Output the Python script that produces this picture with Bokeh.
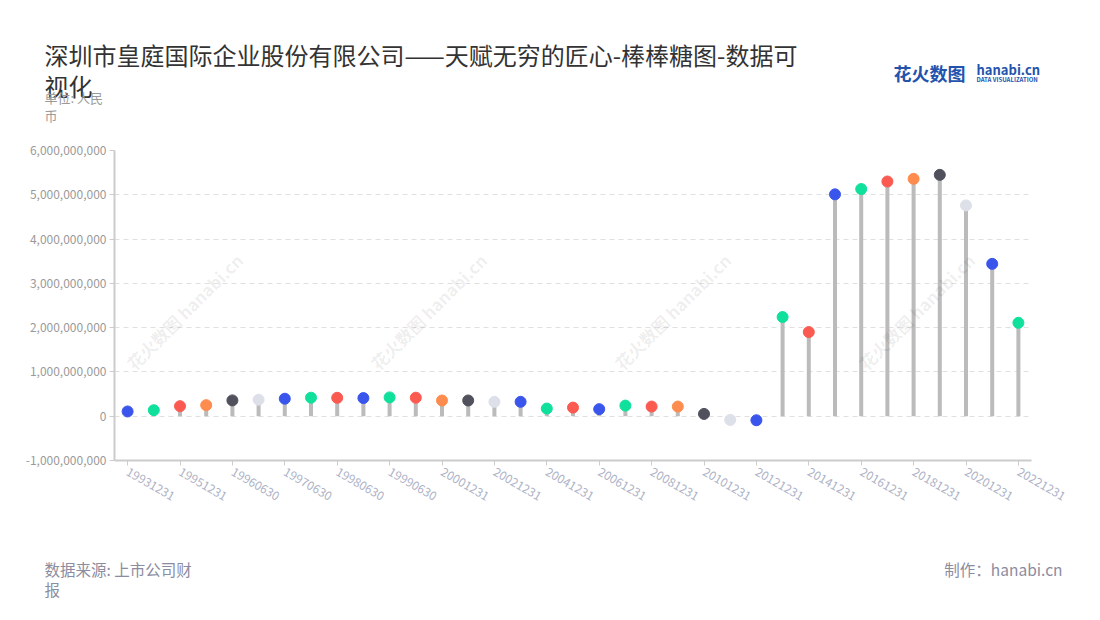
import math
from bokeh.plotting import figure
from bokeh.layouts import column
from bokeh.models import Range1d, FixedTicker, NumeralTickFormatter, Label, ColumnDataSource
from bokeh.embed import file_html
from bokeh.resources import INLINE

# ---- data ----
dates = ["19931231", "19941231", "19951231", "19960331", "19960630", "19961231",
         "19970630", "19971231", "19980630", "19981231", "19990630", "19991231",
         "20001231", "20011231", "20021231", "20031231", "20041231", "20051231",
         "20061231", "20071231", "20081231", "20091231", "20101231", "20111231",
         "20121231", "20131231", "20141231", "20151231", "20161231", "20171231",
         "20181231", "20191231", "20201231", "20211231", "20221231"]
values = [107e6, 136e6, 227e6, 250e6, 357e6, 373e6, 395e6, 418e6,
          416e6, 410e6, 425e6, 418e6, 355e6, 355e6, 325e6, 325e6,
          173e6, 195e6, 160e6, 240e6, 218e6, 218e6, 52e6, -84e6, -91e6,
          2.24e9, 1.90e9, 5.01e9, 5.13e9, 5.30e9, 5.36e9, 5.45e9, 4.76e9, 3.44e9, 2.11e9]
y_ticks = [-1e9, 0, 1e9, 2e9, 3e9, 4e9, 5e9, 6e9]
title_lines = ["深圳市皇庭国际企业股份有限公司——天赋无穷的匠心-棒棒糖图-数据可", "视化"]
unit_lines = ["单位: 人民", "币"]
source_lines = ["数据来源: 上市公司财", "报"]
credit = "制作：hanabi.cn"
watermark = "花火数图 hanabi.cn"

# ---- style ----
palette = ["#3a55ec", "#0fe09c", "#fb5a50", "#fe8c4e", "#51515e", "#dde0e9",
           "#3a55ec", "#0fe09c", "#fb5a50"]
FONT = "Noto Sans CJK SC"
W = 1084
HEAD_H, MAIN_H, FOOT_H = 140, 370, 94      # page bands: 0-140, 140-510, 510-604
FL, FT, FB, FR = 114, 150, 460, 1031       # plot frame in page pixels
WM_X = [184, 428, 672, 916]
WM_Y = [311]


def blank_fig(y0, h):
    f = figure(width=W, height=h, output_backend="svg", toolbar_location=None,
               x_range=Range1d(0, W), y_range=Range1d(y0 + h, y0),
               x_axis_type=None, y_axis_type=None, min_border=0, frame_align=False)
    f.grid.visible = False
    f.outline_line_color = None
    f.background_fill_color = "white"
    f.border_fill_color = "white"
    return f


def lab(f, text, x, y, size, color, align="left", style="normal", angle=0.0, alpha=1.0,
        units="data"):
    f.add_layout(Label(x=x, y=y, x_units=units, y_units=units, text=text,
                       text_font=FONT, text_font_size=size, text_color=color,
                       text_align=align, text_baseline="middle", text_font_style=style,
                       angle=angle, text_alpha=alpha))


# ---- header ----
head = blank_fig(0, HEAD_H)
lab(head, title_lines[0], 44, 54, "24px", "#333333")
lab(head, title_lines[1], 44, 85, "24px", "#333333")
lab(head, unit_lines[0], 44, 97, "13px", "#9a9a9a")
lab(head, unit_lines[1], 44, 115, "13px", "#9a9a9a")
lab(head, "花火数图", 893, 72, "18px", "#2453ad", style="bold")
lab(head, "hanabi.cn", 976, 69, "13px", "#2453ad", style="bold")
lab(head, "DATA VISUALIZATION", 976, 79, "6px", "#2453ad", style="bold")

# ---- main chart ----
idx = list(range(len(values)))
src = ColumnDataSource(dict(
    x=idx, y=values, zero=[0] * len(values),
    color=[palette[i % len(palette)] for i in idx],
))

p = figure(width=W, height=MAIN_H, output_backend="svg", toolbar_location=None,
           x_range=Range1d(-0.5, len(values) - 0.5), y_range=Range1d(y_ticks[0], y_ticks[-1]),
           min_border_left=FL, min_border_right=W - FR,
           min_border_top=FT - HEAD_H, min_border_bottom=HEAD_H + MAIN_H - FB,
           frame_align=False)
p.outline_line_color = None
p.background_fill_color = "white"
p.border_fill_color = "white"

# faint watermarks (frame-relative screen pixels)
for wy in WM_Y:
    for wx in WM_X:
        lab(p, watermark, wx - FL, FB - wy, "17px", "#000000", align="center", style="bold",
            angle=math.pi / 4, alpha=0.08, units="screen")

p.segment(x0="x", y0="zero", x1="x", y1="y", source=src, line_color="#bbbbbb", line_width=4)
p.scatter(x="x", y="y", source=src, size=11, fill_color="color", line_color="color")

p.xgrid.visible = False
p.ygrid.grid_line_color = "#e0e0e0"
p.ygrid.grid_line_dash = "5 4"
p.ygrid.grid_line_width = 1

p.yaxis.ticker = FixedTicker(ticks=y_ticks)
p.yaxis.formatter = NumeralTickFormatter(format="0,0")
p.yaxis.axis_line_color = "#cccccc"
p.yaxis.axis_line_width = 2
p.yaxis.major_tick_line_color = "#cccccc"
p.yaxis.major_tick_out = 5
p.yaxis.major_tick_in = 0
p.yaxis.minor_tick_line_color = None
p.yaxis.major_label_text_color = "#9a9a9a"
p.yaxis.major_label_text_font = FONT
p.yaxis.major_label_text_font_size = "12px"
p.yaxis.major_label_standoff = 3

even = list(range(0, len(values), 2))
p.xaxis.ticker = FixedTicker(ticks=even)
p.xaxis.major_label_overrides = {i: dates[i] for i in even}
p.xaxis.axis_line_color = "#cccccc"
p.xaxis.axis_line_width = 2
p.xaxis.major_tick_line_color = "#cccccc"
p.xaxis.major_tick_out = 5
p.xaxis.major_tick_in = 0
p.xaxis.minor_tick_line_color = None
p.xaxis.major_label_orientation = -math.pi / 6
p.xaxis.major_label_text_color = "#aeb2c6"
p.xaxis.major_label_text_font = FONT
p.xaxis.major_label_text_font_size = "12px"

# ---- footer ----
y0 = HEAD_H + MAIN_H
foot = blank_fig(y0, FOOT_H)
lab(foot, source_lines[0], 44, 568, "15.5px", "#8c8ca0")
lab(foot, source_lines[1], 44, 588, "15.5px", "#8c8ca0")
lab(foot, credit, 1062, 568, "15.5px", "#8c8ca0", align="right")

layout = column(head, p, foot, spacing=0)
open("out.html", "w").write(file_html(layout, INLINE))
